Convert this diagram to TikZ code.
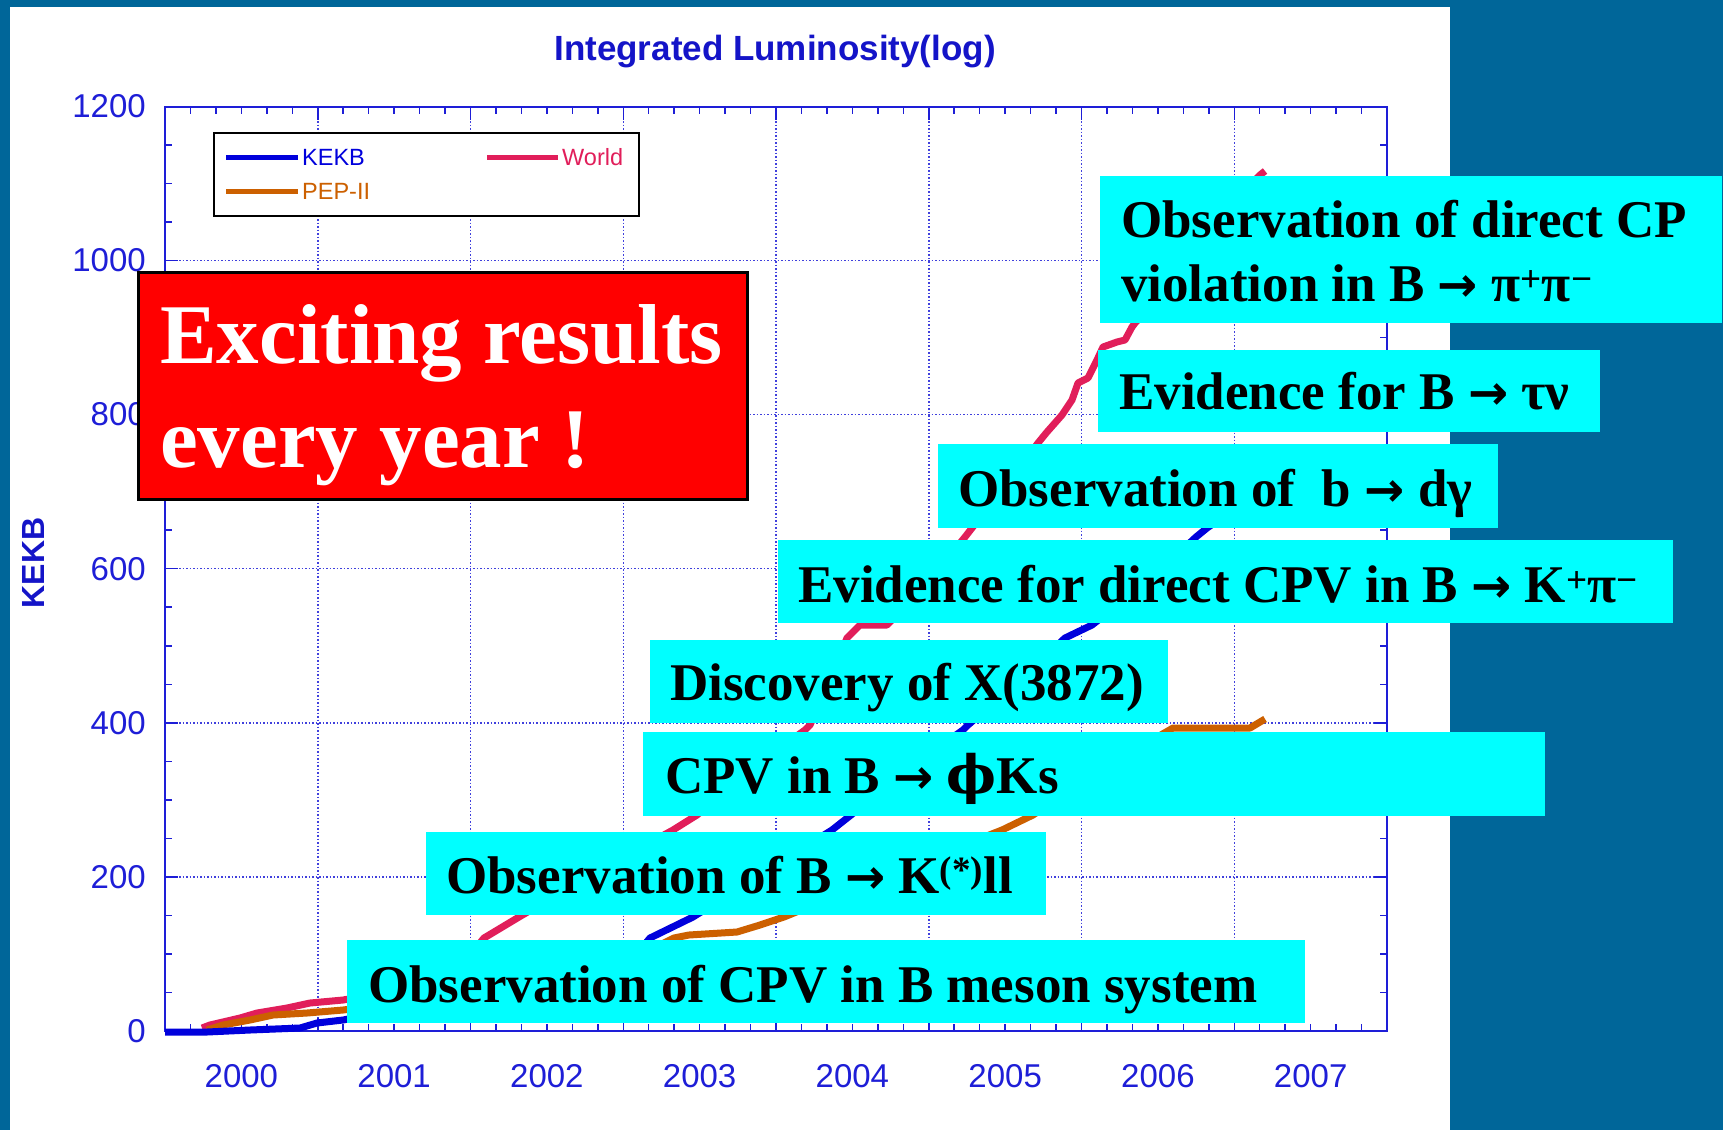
\documentclass[tikz,border=0pt]{standalone}
\usepackage{fontspec}
\setmainfont{Liberation Serif}
\setsansfont{Liberation Sans}
\newfontfamily\arrowfont{DejaVu Sans}
\newfontfamily\phifont{DejaVu Serif}
\newcommand{\rarr}{{\arrowfont\bfseries\fontsize{48}{50}\selectfont →}}
\definecolor{bgblue}{RGB}{0,102,153}
\definecolor{axisblue}{RGB}{30,30,215}
\definecolor{titleblue}{RGB}{20,20,200}
\definecolor{kekbblue}{RGB}{0,0,220}
\definecolor{peporange}{RGB}{204,96,0}
\definecolor{worldred}{RGB}{225,30,90}
\definecolor{hlcyan}{RGB}{0,255,255}
\tikzset{
  gridline/.style={axisblue!85, line width=1.5pt, dash pattern=on 1.5pt off 2pt},
  tickline/.style={axisblue, line width=1.5pt},
  lumi/.style={line width=7pt, line join=round},
  ticklabel/.style={font=\sffamily\fontsize{33}{36}\selectfont, text=axisblue, inner sep=0pt},
  legtext/.style={font=\sffamily\fontsize{23.5}{26}\selectfont, anchor=west, inner sep=0pt},
  hlbox/.style={fill=hlcyan, inner sep=0pt, anchor=north west},
  hltext/.style={anchor=base west, inner sep=0pt, font=\bfseries\fontsize{53}{64}\selectfont},
  bigtext/.style={anchor=base west, inner sep=0pt, text=white, font=\bfseries\fontsize{85}{100}\selectfont}
}
\begin{document}
\begin{tikzpicture}[x=1pt, y=-1pt]
        \useasboundingbox (0,0) rectangle (1723,1130);
        \fill[bgblue] (0,0) rectangle (1723,1130);
        \fill[white] (10,7) rectangle (1450,1130);

        \foreach \i in {1,...,7} \draw[gridline] (165+152.75*\i,107) -- (165+152.75*\i,1031);
        \foreach \j in {1,...,5} \draw[gridline] (165,1031-154.1*\j) -- (1387,1031-154.1*\j);
        \foreach \k in {1,...,47} {\draw[tickline] (165+25.458*\k,1031) -- ++(0,-7); \draw[tickline] (165+25.458*\k,107) -- ++(0,7);}
        \foreach \i in {1,...,7} {\draw[tickline] (165+152.75*\i,1031) -- ++(0,-13); \draw[tickline] (165+152.75*\i,107) -- ++(0,13);}
        \foreach \k in {1,...,23} {\draw[tickline] (165,1031-38.525*\k) -- ++(7,0); \draw[tickline] (1387,1031-38.525*\k) -- ++(-7,0);}
        \foreach \j in {1,...,5} {\draw[tickline] (165,1031-154.1*\j) -- ++(13,0); \draw[tickline] (1387,1031-154.1*\j) -- ++(-13,0);}
        \draw[axisblue, line width=2pt] (165,107) rectangle (1387,1031);

        \foreach \v [count=\j from 0] in {0,200,...,1200} \node[ticklabel, anchor=east] (y\v) at (146,1031-154.1*\j) {\v};
        \foreach \yr [count=\i from 0] in {2000,...,2007} \node[ticklabel] (x\yr) at (241.4+152.75*\i,1076) {\yr};
        \node[font=\sffamily\bfseries\fontsize{35}{40}\selectfont, text=titleblue, anchor=base] (title) at (775,60) {Integrated Luminosity(log)};
        \node[font=\sffamily\bfseries\fontsize{32}{36}\selectfont, text=titleblue, rotate=90] (ylabel) at (33,563) {KEKB};

        \draw[lumi, worldred] (202,1028) -- (210,1025) -- (240,1018) -- (257,1013) -- (287,1008) -- (310,1003) -- (343,1000) -- (400,990) -- (440,975) -- (470,955) -- (484,938) -- (519,917) -- (600,870) -- (673,830) -- (697,815) -- (750,770) -- (805,730) -- (810,725) -- (830,680) -- (847,638) -- (860,625) -- (887,625) -- (930,580) -- (965,537) -- (972,528) -- (1010,480) -- (1038,443) -- (1047,432) -- (1062,415) -- (1072,400) -- (1078,383) -- (1088,378) -- (1097,360) -- (1103,347) -- (1117,342) -- (1125,340) -- (1132,327) -- (1135,323) -- (1170,285) -- (1210,235) -- (1245,190) -- (1260,175) -- (1265,171);
        \draw[lumi, peporange] (207,1030) -- (223,1025) -- (250,1020) -- (273,1015) -- (307,1013) -- (343,1010) -- (420,1000) -- (520,985) -- (620,960) -- (660,945) -- (674,938) -- (689,935) -- (737,932) -- (760,925) -- (784,917) -- (900,870) -- (1002,830) -- (1033,815) -- (1100,770) -- (1173,728) -- (1250,728) -- (1265,719);
        \draw[lumi, kekbblue] (165,1032) -- (207,1032) -- (250,1030) -- (300,1028) -- (317,1023) -- (343,1020) -- (420,1005) -- (520,990) -- (600,970) -- (640,950) -- (650,938) -- (693,917) -- (760,875) -- (832,830) -- (851,815) -- (900,775) -- (963,730) -- (968,725) -- (1020,680) -- (1065,638) -- (1092,625) -- (1150,580) -- (1196,537) -- (1207,528) -- (1240,505) -- (1265,484);

        \node[draw=black, fill=white, line width=2pt, inner sep=0pt, minimum width=425pt, minimum height=83pt, anchor=north west] (legend) at (213,132) {};
        \draw[line width=5pt, kekbblue] (226,157) -- (298,157); \node[legtext, text=kekbblue] (legkekb) at (302,157) {KEKB};
        \draw[line width=5pt, peporange] (226,191) -- (298,191); \node[legtext, text=peporange] (legpep) at (302,191) {PEP-II};
        \draw[line width=5pt, worldred] (487,157) -- (558,157); \node[legtext, text=worldred] (legworld) at (562,157) {World};

        \node[draw=black, fill=red, line width=3pt, inner sep=0pt, minimum width=609pt, minimum height=227pt, anchor=north west] (exciting) at (137,271) {};
        \node[bigtext] (excitinga) at (160,363) {Exciting results};
        \node[bigtext] (excitingb) at (160,467) {every year !};

        \node[hlbox, minimum width=622pt, minimum height=147pt] (pipibox) at (1100,176) {};
        \node[hltext] (pipia) at (1121,237) {Observation of direct CP};
        \node[hltext] (pipib) at (1121,301) {violation in B \rarr\ π\textsuperscript{+}π\textsuperscript{−}};
        \node[hlbox, minimum width=502pt, minimum height=82pt] (taunubox) at (1098,350) {};
        \node[hltext] (taunu) at (1119,409) {Evidence for B \rarr\ τν};
        \node[hlbox, minimum width=560pt, minimum height=84pt] (dgammabox) at (938,444) {};
        \node[hltext] (dgamma) at (958,506) {Observation of\ \ b \rarr\ dγ};
        \node[hlbox, minimum width=895pt, minimum height=83pt] (kpibox) at (778,540) {};
        \node[hltext] (kpi) at (798,602) {Evidence for direct CPV in B \rarr\ K\textsuperscript{+}π\textsuperscript{−}};
        \node[hlbox, minimum width=518pt, minimum height=83pt] (xbox) at (650,640) {};
        \node[hltext] (xstate) at (670,700) {Discovery of X(3872)};
        \node[hlbox, minimum width=902pt, minimum height=84pt] (phikbox) at (643,732) {};
        \node[hltext] (phik) at (665,793) {CPV in B \rarr\ {\phifont ϕ}Ks};
        \node[hlbox, minimum width=620pt, minimum height=83pt] (kllbox) at (426,832) {};
        \node[hltext] (kll) at (446,893) {Observation of B \rarr\ K\textsuperscript{(*)}ll};
        \node[hlbox, minimum width=958pt, minimum height=83pt] (cpvbox) at (347,940) {};
        \node[hltext] (cpv) at (368,1002) {Observation of CPV in B meson system};
\end{tikzpicture}
\end{document}
